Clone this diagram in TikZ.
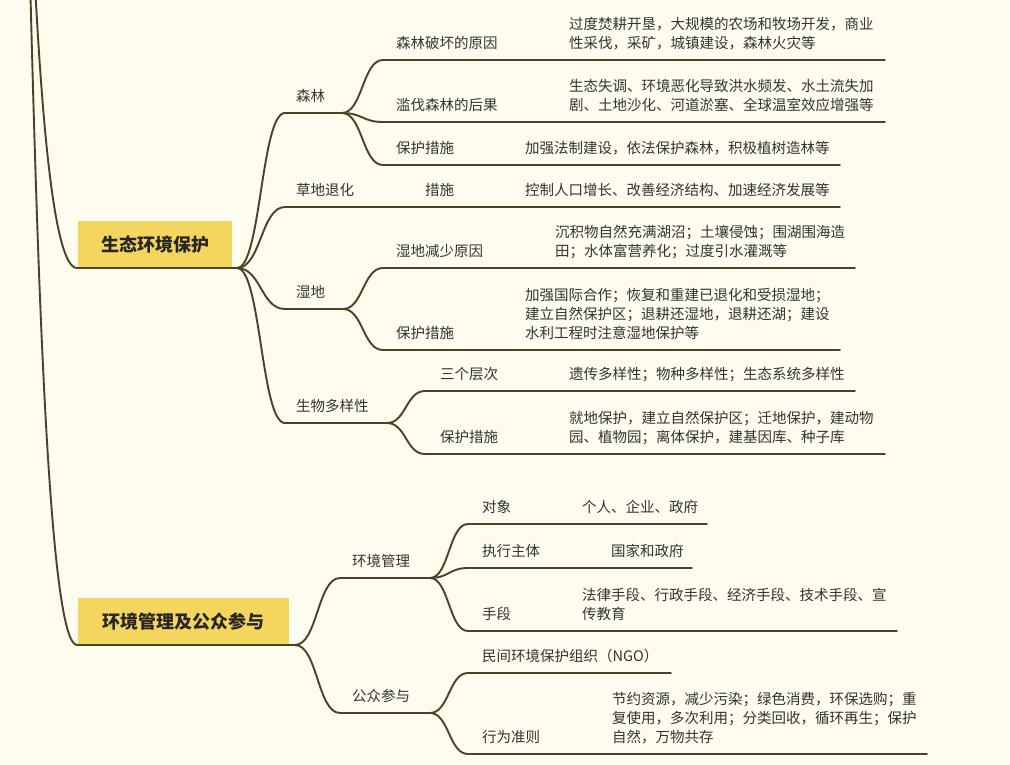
\documentclass[tikz,border=0pt]{standalone}
\usepackage{fontspec}
\setmainfont{Noto Sans CJK SC}
\usetikzlibrary{calc}
\definecolor{bgc}{HTML}{FEFBEF}
\definecolor{lnc}{HTML}{4A4424}
\definecolor{ylw}{HTML}{F4D55E}
\definecolor{txc}{HTML}{333333}
\tikzset{
  ln/.style={draw=lnc, line width=1.9pt, line cap=round},
  br/.style={ln, to path={let \p1=(\tikztostart), \p2=(\tikztotarget) in
      .. controls ({0.5*\x1+0.5*\x2},\y1) and ({0.5*\x1+0.5*\x2},\y2) .. (\tikztotarget)}},
  lbl/.style={anchor=south west, inner sep=0pt, text=txc,
      font=\fontsize{14.5}{18.7}\selectfont, align=left, execute at end node=\strut},
  topic/.style={fill=ylw, inner sep=0pt, minimum height=47pt,
      font=\fontsize{18}{22}\selectfont\bfseries, text=black!85}
}
\begin{document}
\begin{tikzpicture}[x=1pt,y=-1pt]
\useasboundingbox (0,0) rectangle (1010,765);
\fill[bgc] (0,0) rectangle (1010,765);
\clip (0,0) rectangle (1010,765);

% ---------- coordinates ----------
\coordinate (root) at (15,-400);
\coordinate (n1s) at (77,268);  \coordinate (n1e) at (237,268);
\coordinate (n2s) at (77,645);  \coordinate (n2e) at (295,645);

\coordinate (sls) at (285,113); \coordinate (sle) at (342,113);
\coordinate (cds) at (285,207); \coordinate (cde) at (383,207);
\coordinate (sds) at (285,309); \coordinate (sde) at (343,309);
\coordinate (sws) at (285,423); \coordinate (swe) at (387,423);
\coordinate (hgs) at (340,578); \coordinate (hge) at (430,578);
\coordinate (gzs) at (340,713); \coordinate (gze) at (430,713);

\coordinate (a1s) at (383,60);  \coordinate (a1e) at (885,60);
\coordinate (a2s) at (383,122); \coordinate (a2e) at (885,122);
\coordinate (a3s) at (383,165); \coordinate (a3e) at (840,165);
\coordinate (b1e) at (840,207);
\coordinate (c1s) at (383,268); \coordinate (c1e) at (855,268);
\coordinate (c2s) at (383,350); \coordinate (c2e) at (840,350);
\coordinate (d1s) at (425,391); \coordinate (d1e) at (855,391);
\coordinate (d2s) at (425,454); \coordinate (d2e) at (885,454);
\coordinate (e1s) at (468,524); \coordinate (e1e) at (707,524);
\coordinate (e2s) at (468,568); \coordinate (e2e) at (692,568);
\coordinate (e3s) at (468,631); \coordinate (e3e) at (897,631);
\coordinate (f1s) at (468,673); \coordinate (f1e) at (671,673);
\coordinate (f2s) at (468,754); \coordinate (f2e) at (927,754);

% ---------- main topics ----------
\node[topic, minimum width=154pt] (m1) at (155,244.5) {生态环境保护};
\node[topic, minimum width=211pt] (m2) at (183.5,621.5) {环境管理及公众参与};

% ---------- connectors ----------
\draw[ln] (root) .. controls (28,-400) and (28,268) .. (n1s) -- (n1e);
\draw[ln] (root) .. controls (30,-400) and (30,645) .. (n2s) -- (n2e);

\draw[br] (n1e) to (sls); \draw[ln] (sls) -- (sle);
\draw[br] (n1e) to (cds); \draw[ln] (cds) -- (cde) -- (b1e);
\draw[br] (n1e) to (sds); \draw[ln] (sds) -- (sde);
\draw[br] (n1e) to (sws); \draw[ln] (sws) -- (swe);

\draw[br] (sle) to (a1s); \draw[ln] (a1s) -- (a1e);
\draw[br] (sle) to (a2s); \draw[ln] (a2s) -- (a2e);
\draw[br] (sle) to (a3s); \draw[ln] (a3s) -- (a3e);
\draw[br] (sde) to (c1s); \draw[ln] (c1s) -- (c1e);
\draw[br] (sde) to (c2s); \draw[ln] (c2s) -- (c2e);
\draw[br] (swe) to (d1s); \draw[ln] (d1s) -- (d1e);
\draw[br] (swe) to (d2s); \draw[ln] (d2s) -- (d2e);

\draw[br] (n2e) to (hgs); \draw[ln] (hgs) -- (hge);
\draw[br] (n2e) to (gzs); \draw[ln] (gzs) -- (gze);
\draw[br] (hge) to (e1s); \draw[ln] (e1s) -- (e1e);
\draw[br] (hge) to (e2s); \draw[ln] (e2s) -- (e2e);
\draw[br] (hge) to (e3s); \draw[ln] (e3s) -- (e3e);
\draw[br] (gze) to (f1s); \draw[ln] (f1s) -- (f1e);
\draw[br] (gze) to (f2s); \draw[ln] (f2s) -- (f2e);

% ---------- labels ----------
\node[lbl] (tsl) at (296,107) {森林};
\node[lbl] (tcd) at (296,201) {草地退化};
\node[lbl] (tsd) at (296,303) {湿地};
\node[lbl] (tsw) at (296,417) {生物多样性};

\node[lbl] (ta1) at (396,54) {森林破坏的原因};
\node[lbl] (xa1) at (569,54) {过度焚耕开垦，大规模的农场和牧场开发，商业\\性采伐，采矿，城镇建设，森林火灾等};
\node[lbl] (ta2) at (396,116) {滥伐森林的后果};
\node[lbl] (xa2) at (569,116) {生态失调、环境恶化导致洪水频发、水土流失加\\剧、土地沙化、河道淤塞、全球温室效应增强等};
\node[lbl] (ta3) at (396,159) {保护措施};
\node[lbl] (xa3) at (525,159) {加强法制建设，依法保护森林，积极植树造林等};

\node[lbl] (tb1) at (425,201) {措施};
\node[lbl] (xb1) at (525,201) {控制人口增长、改善经济结构、加速经济发展等};

\node[lbl] (tc1) at (396,262) {湿地减少原因};
\node[lbl] (xc1) at (555,262) {沉积物自然充满湖沼；土壤侵蚀；围湖围海造\\田；水体富营养化；过度引水灌溉等};
\node[lbl] (tc2) at (396,344) {保护措施};
\node[lbl] (xc2) at (525,344) {加强国际合作；恢复和重建已退化和受损湿地；\\建立自然保护区；退耕还湿地，退耕还湖；建设\\水利工程时注意湿地保护等};

\node[lbl] (td1) at (440,385) {三个层次};
\node[lbl] (xd1) at (569,385) {遗传多样性；物种多样性；生态系统多样性};
\node[lbl] (td2) at (440,448) {保护措施};
\node[lbl] (xd2) at (569,448) {就地保护，建立自然保护区；迁地保护，建动物\\园、植物园；离体保护，建基因库、种子库};

\node[lbl] (thg) at (352,572) {环境管理};
\node[lbl] (tgz) at (352,707) {公众参与};

\node[lbl] (te1) at (482,518) {对象};
\node[lbl] (xe1) at (582,518) {个人、企业、政府};
\node[lbl] (te2) at (482,562) {执行主体};
\node[lbl] (xe2) at (611,562) {国家和政府};
\node[lbl] (te3) at (482,625) {手段};
\node[lbl] (xe3) at (582,625) {法律手段、行政手段、经济手段、技术手段、宣\\传教育};

\node[lbl] (tf1) at (482,667) {民间环境保护组织（NGO）};
\node[lbl] (tf2) at (482,748) {行为准则};
\node[lbl] (xf2) at (612,748) {节约资源，减少污染；绿色消费，环保选购；重\\复使用，多次利用；分类回收，循环再生；保护\\自然，万物共存};
\end{tikzpicture}
\end{document}
